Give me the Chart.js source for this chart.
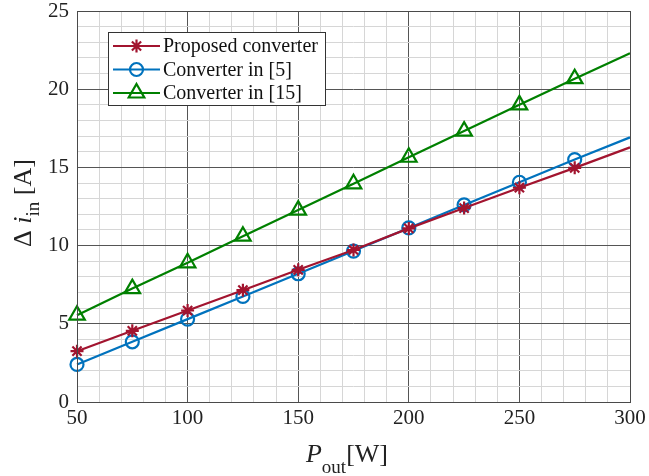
<!DOCTYPE html>
<html>
<head>
<meta charset="utf-8">
<script src="https://cdn.jsdelivr.net/npm/chart.js@4/dist/chart.umd.min.js"></script>
<style>
  html, body { margin: 0; padding: 0; background: #ffffff; }
  #wrap { width: 649px; height: 476px; position: relative; }
</style>
</head>
<body>
<div id="wrap"><canvas id="c" width="649" height="476"></canvas></div>
<script>
// ---- data ----
const pout = [50, 75, 100, 125, 150, 175, 200, 225, 250, 275, 300];
const proposed = [3.25, 4.55, 5.85, 7.15, 8.45, 9.72, 11.1, 12.4, 13.7, 14.97, 16.28];
const conv5 = [2.4, 3.85, 5.3, 6.75, 8.2, 9.65, 11.13, 12.6, 14.05, 15.5, 16.92];
const conv15 = [5.55, 7.25, 8.9, 10.6, 12.27, 13.95, 15.65, 17.32, 19.0, 20.67, 22.3];
const seriesNames = ['Proposed converter', 'Converter in [5]', 'Converter in [15]'];
const xTickLabels = [50, 100, 150, 200, 250, 300];
const yTickLabels = [0, 5, 10, 15, 20, 25];

const colors = ['#A2142F', '#0072BD', '#008000'];
const markers = ['star', 'circle', 'triangle'];
const markerSizes = [6.5, 6.5, 9];
const SERIF = '"Liberation Serif", "DejaVu Serif", serif';

function toXY(ys) { return pout.map((x, i) => ({ x: x, y: ys[i] })); }
function radii(r) { return pout.map((x, i) => (i === pout.length - 1 ? 0 : r)); }

const datasets = [proposed, conv5, conv15].map((ys, k) => ({
  label: seriesNames[k],
  data: toXY(ys),
  borderColor: colors[k],
  backgroundColor: 'rgba(0,0,0,0)',
  borderWidth: 2.2,
  pointStyle: markers[k],
  pointRadius: radii(markerSizes[k]),
  pointBorderWidth: 2.2,
  pointBorderColor: colors[k],
  pointBackgroundColor: 'rgba(0,0,0,0)',
  tension: 0,
  fill: false,
  clip: false
}));

const gridColor = (ctx, step) => {
  const v = ctx.tick ? ctx.tick.value : 0;
  return (Math.abs(v % step) < 1e-6) ? '#555555' : '#d6d6d6';
};

const drawPieces = (c, parts, x) => {
  parts.forEach(p => { c.font = p[1]; c.fillText(p[0], x, p[2]); x += c.measureText(p[0]).width; });
};
const piecesWidth = (c, parts) => {
  let w = 0;
  parts.forEach(p => { c.font = p[1]; w += c.measureText(p[0]).width; });
  return w;
};

// axis titles and legend drawn as text with subscript
const decorPlugin = {
  id: 'decor',
  afterDraw(chart) {
    const c = chart.ctx;
    const ca = chart.chartArea;
    // border box
    c.save();
    c.strokeStyle = '#4a4a4a';
    c.lineWidth = 1;
    c.strokeRect(Math.round(ca.left) + 0.5, Math.round(ca.top) + 0.5,
                 Math.round(ca.right - ca.left), Math.round(ca.bottom - ca.top));
    c.restore();

    const big = '26px ' + SERIF, bigIt = 'italic 26px ' + SERIF, sub = '19px ' + SERIF;

    // x title: P_out[W]
    c.save();
    c.fillStyle = '#222';
    c.textBaseline = 'alphabetic';
    const xparts = [['P', bigIt, 0], ['out', sub, 11], ['[W]', big, 0]];
    c.translate(0, 462);
    drawPieces(c, xparts, 347 - piecesWidth(c, xparts) / 2);
    c.restore();

    // y title: Δ i_in [A], rotated
    c.save();
    c.fillStyle = '#222';
    c.textBaseline = 'alphabetic';
    c.translate(31, 203);
    c.rotate(-Math.PI / 2);
    const yparts = [['\u0394 ', big, 0], ['i', bigIt, 0], ['in', sub, 8], [' [A]', big, 0]];
    drawPieces(c, yparts, -piecesWidth(c, yparts) / 2);
    c.restore();

    // legend
    c.save();
    const lx = 108, ly = 32, lw = 217, lh = 73;
    c.fillStyle = '#ffffff';
    c.fillRect(lx, ly, lw, lh);
    c.strokeStyle = '#333';
    c.lineWidth = 1;
    c.strokeRect(lx + 0.5, ly + 0.5, lw, lh);
    const rows = [46, 69.5, 93];
    datasets.forEach((ds, k) => {
      const ry = rows[k];
      c.strokeStyle = colors[k];
      c.lineWidth = 2.2;
      c.beginPath();
      c.moveTo(113, ry);
      c.lineTo(160, ry);
      c.stroke();
      c.fillStyle = 'rgba(0,0,0,0)';
      Chart.helpers.drawPoint(c, { pointStyle: markers[k], radius: markerSizes[k], borderWidth: 2.2, rotation: 0 }, 136.5, ry);
      c.fillStyle = '#111';
      c.font = '20px ' + SERIF;
      c.textBaseline = 'middle';
      c.fillText(seriesNames[k], 163, ry + 1);
    });
    c.restore();
  }
};

new Chart(document.getElementById('c'), {
  type: 'line',
  data: { datasets: datasets },
  options: {
    responsive: false,
    animation: false,
    layout: { autoPadding: false, padding: { left: 0, right: 19, top: 11, bottom: 0 } },
    plugins: { legend: { display: false }, tooltip: { enabled: false } },
    scales: {
      x: {
        type: 'linear',
        min: 50, max: 300,
        afterFit(scale) { scale.height = 74; scale.paddingLeft = 0; scale.paddingRight = 0; },
        ticks: {
          stepSize: 10,
          autoSkip: false,
          maxRotation: 0,
          padding: 6,
          color: '#222',
          font: { family: SERIF, size: 21, lineHeight: 1 },
          callback: v => (xTickLabels.includes(v) ? String(v) : '')
        },
        grid: { color: ctx => gridColor(ctx, 50), lineWidth: 1, drawTicks: false },
        border: { display: false }
      },
      y: {
        min: 0, max: 25,
        afterFit(scale) { scale.width = 77; scale.paddingTop = 0; scale.paddingBottom = 0; },
        ticks: {
          stepSize: 1,
          autoSkip: false,
          padding: 8,
          color: '#222',
          font: { family: SERIF, size: 21, lineHeight: 1 },
          callback: v => (yTickLabels.includes(v) ? String(v) : '')
        },
        grid: { color: ctx => gridColor(ctx, 5), lineWidth: 1, drawTicks: false },
        border: { display: false }
      }
    }
  },
  plugins: [decorPlugin]
});
</script>
</body>
</html>
